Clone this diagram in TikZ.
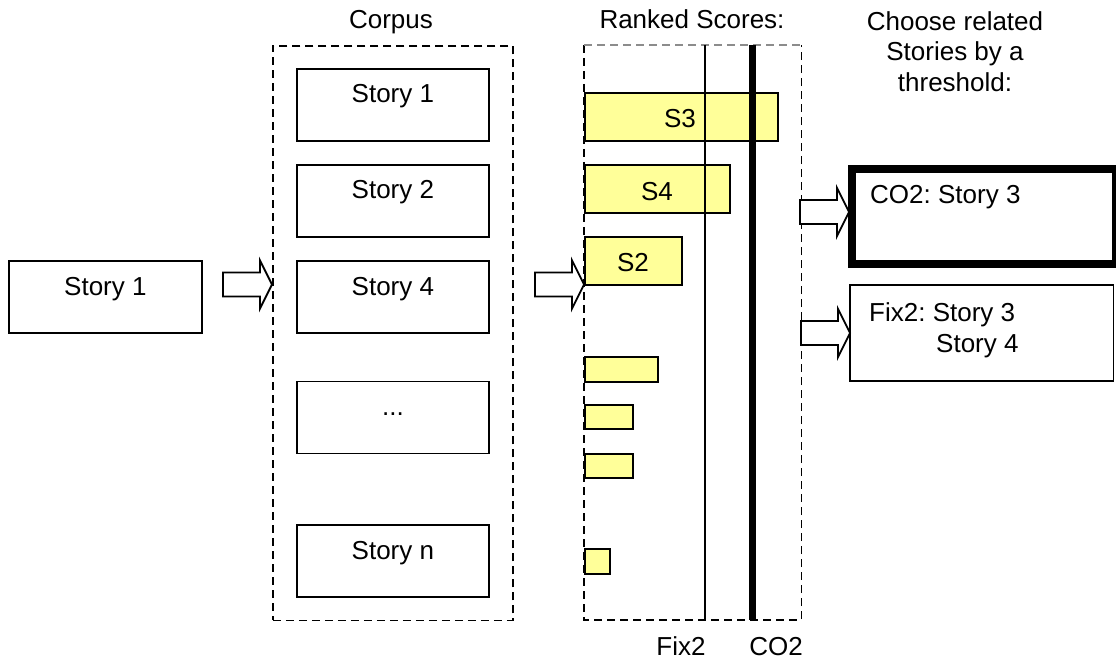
\documentclass[tikz,border=0pt]{standalone}
\usepackage{fontspec}
\setmainfont{Liberation Sans}
\usetikzlibrary{calc}
\definecolor{barfill}{HTML}{FFFF99}
\definecolor{framegray}{HTML}{8C8C8C}
\tikzset{
  storybox/.style={draw, line width=1.8pt, rectangle, inner sep=0pt, anchor=north west},
  groupbox/.style={draw, dashed, dash pattern=on 8pt off 5pt, line width=1.8pt, rectangle, inner sep=0pt, anchor=north west},
  scorebar/.style={draw, fill=barfill, line width=2pt, rectangle, inner sep=0pt, anchor=north west},
  blockarrow/.style={draw, fill=white, line width=1.8pt, line join=miter},
  txt/.style={anchor=base, inner sep=0pt},
  ltxt/.style={anchor=base west, inner sep=0pt},
}
% block arrow pointing right, tip at #1
\newcommand\blockarrowat[1]{%
  \draw[blockarrow] (#1) -- ++(-12,-24) -- ++(0,12) -- ++(-37,0) -- ++(0,24)
    -- ++(37,0) -- ++(0,12) -- cycle;}
\newcommand\moredots{...}
\frenchspacing
\begin{document}
\begin{tikzpicture}[x=1pt,y=-1pt,font=\fontsize{26}{30.5}\selectfont\frenchspacing]
\useasboundingbox (0,0) rectangle (1116,660);

% query story
\node[storybox, minimum width=193, minimum height=72] (query) at (8,260) {};
\node[txt] (querytxt) at ($(query.north)+(0,35)$) {Story 1};

% corpus
\node[groupbox, minimum width=240, minimum height=574.5] (corpus) at (272,45) {};
\node[txt] (corpuslbl) at (391,29) {Corpus};
\foreach \name/\top/\lbl in {c1/68/Story 1, c2/164/Story 2, c4/260/Story 4, cdots/380.5/\moredots, cn/524/Story n}{
  \node[storybox, minimum width=192, minimum height=72] (\name) at (296,\top) {};
  \node[txt] (\name txt) at ($(\name.north)+(0,35)$) {\lbl};
}

% ranked scores frame
\node[rectangle, inner sep=0pt, anchor=north west, minimum width=217, minimum height=574.5] (ranked) at (584,45) {};
\draw[dash pattern=on 8pt off 5pt, line width=1.8pt] (ranked.north west) -- (ranked.south west) -- (ranked.south east) -- (ranked.north east);
\draw[dash pattern=on 8pt off 5pt, line width=1.3pt, framegray] (ranked.north west) -- (ranked.north east);
\node[txt] (rankedlbl) at (692,29) {Ranked Scores:};

% score bars
\node[scorebar, minimum width=193, minimum height=48] (s3) at (584,92) {};
\node[scorebar, minimum width=145, minimum height=48.5] (s4) at (584,164) {};
\node[scorebar, minimum width=97, minimum height=48] (s2) at (584,236) {};
\node[scorebar, minimum width=73, minimum height=24.5] (b4) at (584,356) {};
\node[scorebar, minimum width=48, minimum height=24] (b5) at (584,404) {};
\node[scorebar, minimum width=48, minimum height=24] (b6) at (584,452.5) {};
\node[scorebar, minimum width=24.5, minimum height=24.5] (b7) at (584,548) {};
\node[txt] (s3txt) at (680,128) {S3};
\node[txt] (s4txt) at (657,201) {S4};
\node[txt] (s2txt) at (633,272) {S2};

% thresholds
\coordinate (fixtop) at (705,45);
\coordinate (cotop) at (752,45);
\draw[line width=1.8pt] (fixtop) -- (fixtop |- ranked.south);
\draw[line width=7pt] (cotop) -- (cotop |- ranked.south);
\node[txt] (fixlbl) at (681,655) {Fix2};
\node[txt] (colbl) at (776,655) {CO2};

% flow arrows
\blockarrowat{$(corpus.west |- 0,284.5)$}
\blockarrowat{$(ranked.west |- 0,284.5)$}
\blockarrowat{849,212}
\blockarrowat{850,333}

% selected stories
\node[txt, align=center] (chooselbl) at (955,91.5) {Choose related\\Stories by a\\threshold:};
\node[draw, line width=8pt, rectangle, inner sep=0pt, anchor=north west, minimum width=264, minimum height=95] (co2box) at (848,165) {};
\node[ltxt] (co2txt) at (870,204) {CO2: Story 3};
\node[storybox, minimum width=263.5, minimum height=96] (fixbox) at (849,284) {};
\node[ltxt] (fixtxt) at (869,321) {Fix2: Story 3};
\node[ltxt] (fixtxtb) at (936,352) {Story 4};
\end{tikzpicture}
\end{document}
